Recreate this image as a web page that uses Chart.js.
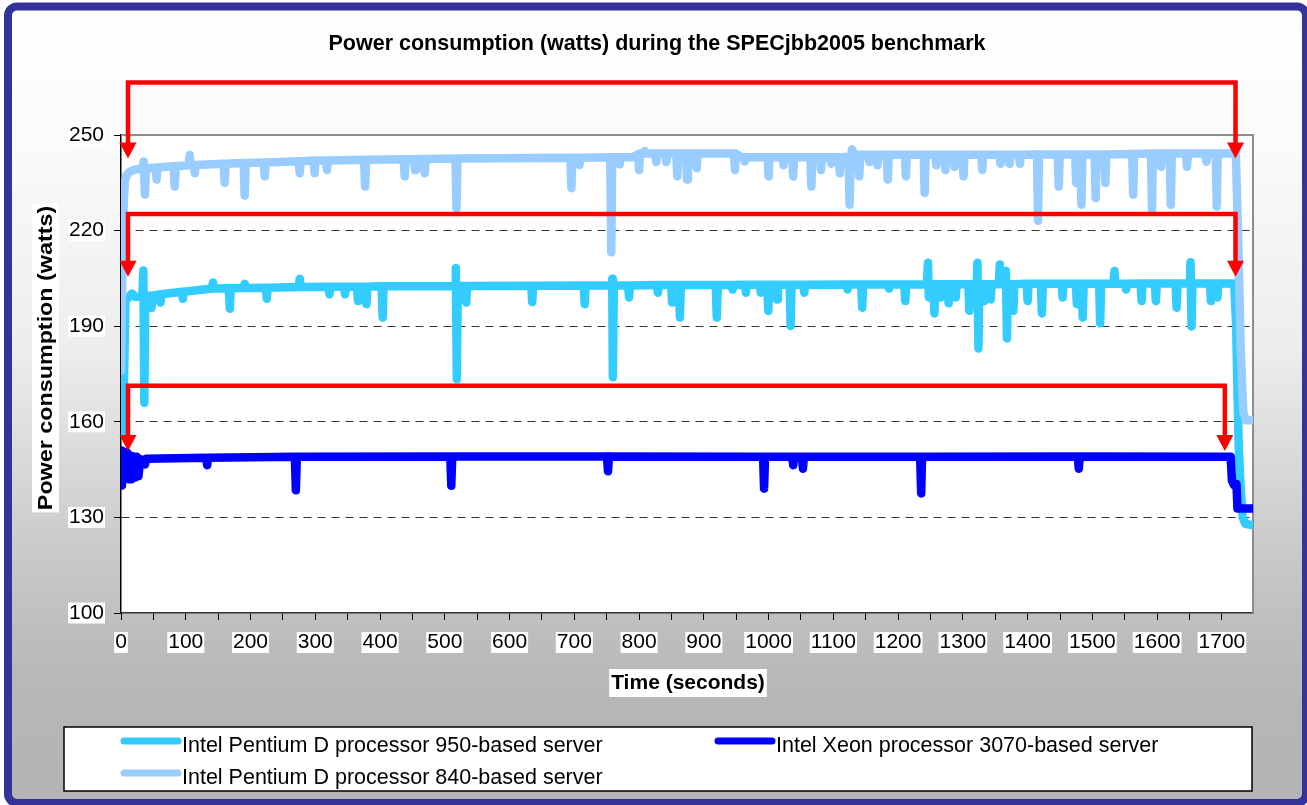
<!DOCTYPE html>
<html>
<head>
<meta charset="utf-8">
<title>Power consumption during SPECjbb2005</title>
<script src="https://cdn.jsdelivr.net/npm/chart.js@4.4.0/dist/chart.umd.min.js"></script>
<style>
  html, body { margin: 0; padding: 0; background: #fff; }
  #wrap { width: 1307px; height: 805px; }
</style>
</head>
<body>
<div id="wrap"><canvas id="powerChart" width="1307" height="805"></canvas></div>
<script>
const FONT = '"Liberation Sans", Arial, Helvetica, sans-serif';

const chartTitle = 'Power consumption (watts) during the SPECjbb2005 benchmark';
const xTitle = 'Time (seconds)';
const yTitle = 'Power consumption (watts)';

const seriesNames = [
  'Intel Pentium D processor 950-based server',
  'Intel Xeon processor 3070-based server',
  'Intel Pentium D processor 840-based server'
];
const seriesColors = ['#33CCFF', '#0000FF', '#99CCFF'];

// Pentium D 950 (seconds / watts)
const t950 = [0, 3, 7, 10, 17, 22, 33, 34.5, 36, 37.5, 45, 47, 49, 59.5, 61, 62.5, 94, 95.5, 97,
  140.5, 142, 143.5, 166.5, 168, 169.5, 189.5, 191, 192.5, 223.5, 225, 226.5, 274.5, 276, 277.5,
  320.5, 322, 323.5, 344.5, 346, 347.5, 364.5, 366, 367, 378, 379, 380.5, 402.5, 404, 405.5,
  516, 517, 518.5, 520, 531.5, 533, 534.5, 633.5, 635, 636.5, 714.5, 716, 717.5,
  757.5, 758.5, 759.5, 761, 783, 784.5, 786, 827.5, 829, 830.5, 849.5, 851, 852.5, 861.5, 863, 864.5, 918.5, 920, 921.5,
  943, 944.5, 946, 963.5, 965, 966.5, 986.5, 988, 989.5,
  998, 999.5, 1001, 1011.5, 1013, 1014.5, 1032.5, 1034, 1035.5, 1053.5, 1055, 1056.5, 1120.5, 1122, 1123.5,
  1143, 1144.5, 1146, 1184.5, 1186, 1187.5,
  1209.5, 1211, 1212.5, 1244.5, 1246, 1247.5, 1249, 1254.5, 1256, 1257.5, 1264.5, 1266, 1267.5, 1276.5, 1278, 1279.5,
  1287.5, 1289, 1290.5, 1308.5, 1310, 1311.5, 1321.5, 1322.5, 1324, 1325.5, 1331.5, 1333, 1334.5, 1341.5, 1343, 1344.5,
  1355.5, 1357, 1358.5,
  1365.5, 1366.5, 1368, 1369.5, 1376.5, 1378, 1379.5, 1398.5, 1400, 1401.5, 1420.5, 1422, 1423.5,
  1452.5, 1454, 1455.5, 1474.5, 1476, 1477.5, 1483.5, 1485, 1486.5, 1510.5, 1512, 1513.5,
  1532.5, 1534, 1535.5, 1550.5, 1552, 1553.5, 1574.5, 1576, 1577.5, 1596.5, 1598, 1599.5, 1628.5, 1630, 1631.5,
  1650.5, 1651.5, 1653, 1654.5, 1681.5, 1683, 1684.5, 1691.5, 1693, 1694.5,
  1719, 1722, 1724, 1726, 1729, 1732, 1736, 1748];
const w950 = [156, 156, 199, 198.6, 200.3, 199.2, 199.3, 207.5, 166, 199.4, 199.6, 195.8, 199.6, 200, 197.4, 200, 200.8, 198.6, 200.8,
  201.8, 203.7, 201.8, 201.9, 195.5, 201.9, 202, 203.3, 202, 202.1, 198.6, 202.1, 202.3, 204.9, 202.3,
  202.4, 200, 202.4, 202.4, 200, 202.4, 202.4, 197.9, 202.4, 202.4, 196.9, 202.4, 202.5, 192.7, 202.5,
  202.6, 208.3, 173.4, 202.6, 202.6, 197.4, 202.6, 202.7, 197.6, 202.7, 202.8, 196.9, 202.8,
  202.8, 204.9, 174, 202.8, 202.8, 199, 202.8, 202.9, 200.5, 202.9, 202.9, 197.4, 202.9, 202.9, 192.7, 202.9, 202.9, 192.7, 202.9,
  202.9, 201.5, 202.9, 203, 200.5, 203, 203, 200.5, 203,
  203, 194.8, 203, 203, 198.4, 203, 203, 190.1, 203, 203, 200.5, 203, 203.1, 201.5, 203.1,
  203.1, 195.8, 203.1, 203.1, 201.8, 203.1,
  203.1, 197.9, 203.1, 203.2, 209.9, 199, 203.2, 203.2, 194, 203.2, 203.2, 199, 203.2, 203.2, 197.2, 203.2,
  203.2, 199, 203.2, 203.2, 194.8, 203.2, 203.2, 209.9, 183, 203.2, 203.2, 197.9, 203.2, 203.2, 198.4, 203.2,
  203.2, 209.4, 203.2,
  203.2, 207.3, 186.2, 203.2, 203.2, 194.8, 203.2, 203.3, 197.9, 203.3, 203.3, 194, 203.3,
  203.3, 199, 203.3, 203.3, 196.9, 203.3, 203.3, 192.7, 203.3, 203.3, 190.9, 203.3,
  203.3, 207.3, 203.3, 203.3, 201.5, 203.3, 203.4, 197.9, 203.4, 203.4, 197.9, 203.4, 203.4, 195.8, 203.4,
  203.4, 210.1, 189.9, 203.4, 203.4, 197.9, 203.4, 203.4, 199, 203.4,
  203.4, 190, 170, 152, 139, 130, 128, 127.5];

// Xeon 3070
const t3070 = [0, 1.5, 5, 9, 11, 13, 16, 18, 22, 24, 27, 29.5, 35, 37, 39,
  131.5, 133, 134.5, 268.5, 270, 271.5, 508.5, 510, 511.5, 750.5, 752, 753.5,
  991.5, 993, 994.5, 1036.5, 1038, 1039.5, 1051.5, 1053, 1054.5, 1234, 1235.6, 1237,
  1477.5, 1479, 1480.5, 1713.5, 1715.5, 1719, 1722.5, 1724, 1748];
const w3070 = [140, 151, 150, 150.5, 142, 149.5, 142, 149.2, 142.5, 149, 143, 148.3, 147.8, 146.6, 148.4,
  148.7, 146.4, 148.7, 149, 138.5, 149, 149.1, 139.9, 149.1, 149.1, 144.5, 149.1,
  149, 139, 149, 149, 146.4, 149, 149, 145.3, 149, 149, 137.5, 149,
  149.1, 145.3, 149.1, 149, 141.5, 140, 140.5, 132.8, 132.8];

// Pentium D 840
const t840 = [0, 2, 4, 6, 9, 14, 22, 33.5, 35, 37, 38.5, 53.5, 55, 56.5, 81.5, 83, 84.5,
  104.5, 106, 107.5, 112.5, 114, 115.5, 158.5, 160, 161.5, 189.5, 191, 192.5, 220.5, 222, 223.5,
  274.5, 276, 277.5, 297.5, 299, 300.5, 316.5, 318, 319.5, 375.5, 377, 378.5,
  436.5, 438, 439.5, 452.5, 454, 455.5, 467.5, 469, 470.5, 516.5, 518, 519.5,
  694, 695.5, 697, 706.5, 708, 709.5, 755.5, 757, 758.5, 768.5, 770, 771.5, 790, 798.5, 800, 801.5, 807.5, 809, 810.5,
  825, 826.5, 828, 840.5, 842, 843.5,
  857.5, 859, 860.5, 872.5, 874, 875.5, 887.5, 889, 890.5, 946.5, 948, 949.5, 958, 961.5, 963, 964.5,
  998.5, 1000, 1001.5, 1021.5, 1023, 1024.5, 1036.5, 1038, 1039.5, 1064.5, 1066, 1067.5, 1079.5, 1081, 1082.5,
  1095, 1096.5, 1098, 1108.5, 1110, 1111.5, 1123.5, 1125, 1127, 1129, 1130.5, 1138.5, 1140, 1141.5, 1154, 1155.5, 1157,
  1166.5, 1168, 1169.5, 1182.5, 1184, 1185.5, 1210.5, 1212, 1213.5, 1239.5, 1241, 1242.5, 1257.5, 1259, 1260.5,
  1271.5, 1273, 1274.5, 1285.5, 1287, 1288.5, 1299.5, 1301, 1302.5, 1328.5, 1330, 1331.5, 1356.5, 1358, 1359.5,
  1370.5, 1372, 1373.5, 1386.5, 1388, 1389.5, 1414.5, 1416, 1417.5,
  1446.5, 1448, 1449.5, 1473.5, 1475, 1476.5, 1481.5, 1483, 1484.5, 1503.5, 1505, 1506.5,
  1518.5, 1520, 1521.5, 1561.5, 1563, 1564.5, 1590.5, 1592, 1593.5, 1604.5, 1606, 1607.5,
  1619.5, 1621, 1622.5, 1644.5, 1646, 1647.5, 1674.5, 1676, 1677.5, 1690.5, 1692, 1693.5,
  1721.5, 1725.5, 1729, 1733, 1737, 1748];
const w840 = [176, 205, 228, 235.5, 237.5, 238.5, 239.2, 239.5, 241.7, 231.3, 239.5, 239.8, 236, 239.8, 240.2, 233.8, 240.2,
  240.5, 243.7, 240.5, 240.6, 238, 240.6, 241, 235, 241, 241.2, 231, 241.2, 241.4, 237, 241.4,
  241.8, 238, 241.8, 242, 238, 242, 242, 239, 242, 242.2, 233.8, 242.2,
  242.4, 237, 242.4, 242.4, 239, 242.4, 242.5, 238, 242.5, 242.6, 227, 242.6,
  242.9, 233.3, 242.9, 242.9, 240.6, 242.9, 243, 213.2, 243, 243, 240.8, 243, 243, 244, 239, 244.2, 244.2, 245, 244.2,
  244.2, 241.5, 244.2, 244.2, 241.5, 244.2,
  244.2, 237, 244.2, 244.2, 236, 244.2, 244.2, 239.6, 244.2, 244.2, 239, 244.2, 243.1, 243, 241.7, 243,
  243, 237, 243, 243, 240.5, 243, 243, 237, 243, 243, 233.8, 243, 243, 239, 243,
  243, 241, 243, 243, 238, 243, 243.2, 228.1, 243.5, 245.5, 243.8, 243.8, 237, 243.8, 243.8, 241.5, 243.8,
  243.8, 240.5, 243.8, 243.8, 236, 243.8, 243.8, 237, 243.8, 243.8, 231.8, 243.8, 243.8, 240.5, 243.8,
  243.8, 239, 243.8, 243.8, 240, 243.8, 243.8, 237, 243.8, 243.8, 239, 243.8, 243.8, 241, 243.8,
  243.8, 241, 243.8, 243.8, 241, 243.8, 243.9, 223.1, 243.9,
  243.9, 233.8, 243.9, 243.9, 234.9, 243.9, 243.9, 228.1, 243.9, 243.9, 230.2, 243.9,
  243.9, 234.9, 243.9, 244, 231.3, 244, 244.2, 226.6, 244.2, 244.2, 240, 244.2,
  244.2, 228.1, 244.2, 244.2, 240, 244.2, 244.2, 241.6, 244.2, 244.2, 227.6, 244.2,
  244.3, 214, 183, 163, 160.5, 160.5];

// axis ticks
const xTicks = [0, 50, 100, 150, 200, 250, 300, 350, 400, 450, 500, 550, 600, 650, 700, 750, 800, 850,
  900, 950, 1000, 1050, 1100, 1150, 1200, 1250, 1300, 1350, 1400, 1450, 1500, 1550, 1600, 1650, 1700];
const yTicks = [100, 130, 160, 190, 220, 250];

// red annotation arrows (seconds / watts)
const arrowFrom = [10.8, 10.8, 10.8];
const arrowTo = [1721, 1721, 1704.5];
const arrowLevel = [266.5, 225.2, 171.3];
const arrowTip = [242.6, 205.5, 150.8];

function points(ts, ws) {
  return ts.map((t, i) => ({ x: t, y: ws[i] }));
}

const decor = {
  id: 'decor',
  beforeDraw(chart) {
    const ctx = chart.ctx;
    const a = chart.chartArea;
    ctx.save();
    ctx.fillStyle = '#ffffff';
    ctx.fillRect(0, 0, chart.width, chart.height);
    const g = ctx.createLinearGradient(0, 10, 0, 800);
    g.addColorStop(0, '#ffffff');
    g.addColorStop(0.18, '#fafafa');
    g.addColorStop(0.43, '#ededed');
    g.addColorStop(0.66, '#cdcdcd');
    g.addColorStop(0.78, '#bebebe');
    g.addColorStop(0.88, '#b6b6b6');
    g.addColorStop(1, '#b4b4b4');
    ctx.beginPath();
    ctx.roundRect(8, 6.5, 1298, 796.5, 9);
    ctx.fillStyle = g;
    ctx.fill();
    ctx.lineWidth = 8;
    ctx.strokeStyle = '#333399';
    ctx.stroke();
    ctx.fillStyle = '#ffffff';
    ctx.fillRect(a.left, a.top, a.right - a.left, a.bottom - a.top);
    ctx.restore();
  },
  beforeDatasetsDraw(chart) {
    const ctx = chart.ctx;
    const a = chart.chartArea;
    ctx.save();
    ctx.strokeStyle = '#8c8c8c';
    ctx.lineWidth = 2;
    ctx.beginPath();
    ctx.moveTo(a.left, a.top);
    ctx.lineTo(a.right, a.top);
    ctx.lineTo(a.right, a.bottom);
    ctx.stroke();
    ctx.restore();
  },
  afterDatasetsDraw(chart) {
    const ctx = chart.ctx;
    const xs = chart.scales.x, ys = chart.scales.y;
    ctx.save();
    ctx.strokeStyle = '#ff0000';
    ctx.fillStyle = '#ff0000';
    ctx.lineWidth = 4.5;
    ctx.lineJoin = 'miter';
    const head = 16, half = 8.5;
    for (let i = 0; i < arrowFrom.length; i++) {
      const x1 = xs.getPixelForValue(arrowFrom[i]);
      const x2 = xs.getPixelForValue(arrowTo[i]);
      const yl = ys.getPixelForValue(arrowLevel[i]);
      const yt = ys.getPixelForValue(arrowTip[i]);
      ctx.beginPath();
      ctx.moveTo(x1, yt - head + 1);
      ctx.lineTo(x1, yl);
      ctx.lineTo(x2, yl);
      ctx.lineTo(x2, yt - head + 1);
      ctx.stroke();
      [x1, x2].forEach(x => {
        ctx.beginPath();
        ctx.moveTo(x - half, yt - head);
        ctx.lineTo(x + half, yt - head);
        ctx.lineTo(x, yt);
        ctx.closePath();
        ctx.fill();
      });
    }
    ctx.restore();
  },
  afterDraw(chart) {
    const ctx = chart.ctx;
    ctx.save();
    // chart title
    ctx.fillStyle = '#000';
    ctx.font = 'bold 21.5px ' + FONT;
    ctx.textAlign = 'center';
    ctx.textBaseline = 'middle';
    ctx.fillText(chartTitle, 657, 44);

    // x axis title with white box
    ctx.font = 'bold 21px ' + FONT;
    const xw = ctx.measureText(xTitle).width;
    ctx.fillStyle = '#fff';
    ctx.fillRect(688 - xw / 2 - 2, 669, xw + 4, 28);
    ctx.fillStyle = '#000';
    ctx.fillText(xTitle, 688, 683.5);

    // y axis title, rotated and slightly stretched along its run
    ctx.translate(45, 358);
    ctx.rotate(-Math.PI / 2);
    ctx.scale(1.11, 1);
    const yw = ctx.measureText(yTitle).width;
    ctx.fillStyle = '#fff';
    ctx.fillRect(-yw / 2 - 2, -13, yw + 4, 27);
    ctx.fillStyle = '#000';
    ctx.fillText(yTitle, 0, 1);
    ctx.setTransform(1, 0, 0, 1, 0, 0);

    // legend
    ctx.fillStyle = '#fff';
    ctx.fillRect(64, 727, 1188, 64);
    ctx.strokeStyle = '#000';
    ctx.lineWidth = 1.5;
    ctx.strokeRect(64, 727, 1188, 64);
    const slots = [[124, 741], [718, 741], [124, 773]];
    ctx.font = '21.5px ' + FONT;
    ctx.textAlign = 'left';
    ctx.textBaseline = 'alphabetic';
    ctx.lineCap = 'round';
    seriesNames.forEach((name, i) => {
      const [sx, sy] = slots[i];
      ctx.strokeStyle = seriesColors[i];
      ctx.lineWidth = 7;
      ctx.beginPath();
      ctx.moveTo(sx, sy);
      ctx.lineTo(sx + 54, sy);
      ctx.stroke();
      ctx.fillStyle = '#000';
      ctx.fillText(name, sx + 58, sy + 11);
    });
    ctx.restore();
  }
};

const lineStyle = {
  borderWidth: 8.5,
  pointRadius: 0,
  tension: 0,
  borderCapStyle: 'round',
  borderJoinStyle: 'round',
  fill: false
};

new Chart(document.getElementById('powerChart'), {
  type: 'line',
  data: {
    datasets: [
      Object.assign({ label: seriesNames[0], data: points(t950, w950), borderColor: seriesColors[0], order: 2 }, lineStyle),
      Object.assign({ label: seriesNames[1], data: points(t3070, w3070), borderColor: seriesColors[1], order: 1 }, lineStyle),
      Object.assign({ label: seriesNames[2], data: points(t840, w840), borderColor: seriesColors[2], order: 0 }, lineStyle)
    ]
  },
  options: {
    responsive: false,
    animation: false,
    events: [],
    layout: { padding: { left: 0, top: 135, right: 54, bottom: 0 } },
    plugins: {
      legend: { display: false },
      title: { display: false },
      tooltip: { enabled: false }
    },
    scales: {
      x: {
        type: 'linear',
        min: 0,
        max: 1748,
        afterFit(scale) { scale.height = 192; },
        afterBuildTicks(scale) { scale.ticks = xTicks.map(v => ({ value: v })); },
        border: { display: true, color: '#333', width: 1.5 },
        grid: { drawOnChartArea: false, drawTicks: true, tickLength: 7, tickColor: '#000', tickWidth: 1 },
        ticks: {
          autoSkip: false,
          maxRotation: 0,
          minRotation: 0,
          padding: 12,
          color: '#000',
          font: { family: FONT, size: 21, lineHeight: 1 },
          showLabelBackdrop: true,
          backdropPadding: { left: 1, right: 1, top: 0, bottom: 0 },
          backdropColor: c => (c.tick && c.tick.value % 100 === 0) ? '#fff' : 'rgba(0,0,0,0)',
          callback: v => (v % 100 === 0 ? String(v) : '')
        }
      },
      y: {
        min: 100,
        max: 250,
        afterFit(scale) { scale.width = 121; },
        afterBuildTicks(scale) { scale.ticks = yTicks.map(v => ({ value: v })); },
        border: { display: true, color: '#000', width: 1.5, dash: [8, 6] },
        grid: {
          color: c => (c.tick && (c.tick.value === 100 || c.tick.value === 250)) ? 'rgba(0,0,0,0)' : '#333',
          lineWidth: 1,
          drawTicks: true,
          tickLength: 7,
          tickColor: '#000',
          tickWidth: 1
        },
        ticks: {
          padding: 10,
          color: '#000',
          font: { family: FONT, size: 21, lineHeight: 1 },
          showLabelBackdrop: true,
          backdropPadding: { left: 1, right: 1, top: 0, bottom: 0 },
          backdropColor: '#fff'
        }
      }
    }
  },
  plugins: [decor]
});
</script>
</body>
</html>
